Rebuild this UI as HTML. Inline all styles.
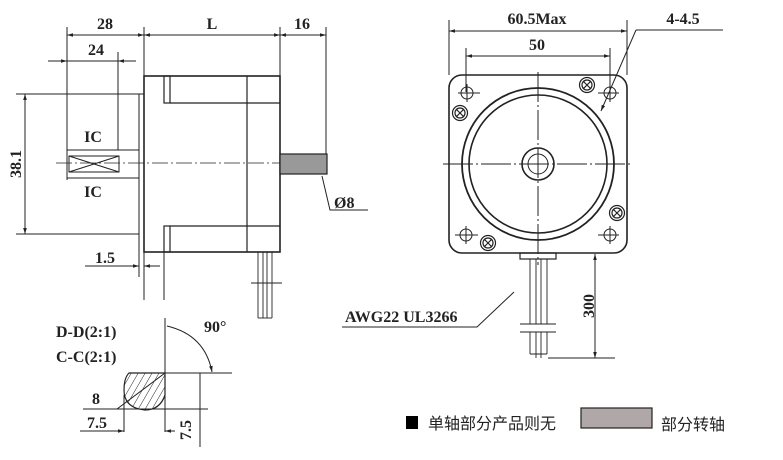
<!DOCTYPE html>
<html><head><meta charset="utf-8"><style>
html,body{margin:0;padding:0;background:#fff;}
svg{display:block;}
text{font-family:"Liberation Serif","Noto Serif CJK SC",serif;font-weight:bold;fill:#222;}
.c{font-family:"Liberation Sans","Noto Sans CJK SC",sans-serif;font-weight:normal;}
</style></head><body>
<svg width="783" height="460" viewBox="0 0 783 460" xmlns="http://www.w3.org/2000/svg">
<defs>
<marker id="a" viewBox="0 0 10 10" refX="10" refY="5" markerWidth="8" markerHeight="6" orient="auto-start-reverse"><path d="M0,2 L10,5 L0,8 z" fill="#222"/></marker>
<pattern id="h" width="6" height="6" patternUnits="userSpaceOnUse" patternTransform="rotate(30)"><line x1="0" y1="0" x2="0" y2="6" stroke="#222" stroke-width="1"/></pattern>
</defs>
<g stroke="#222" stroke-width="1" fill="none">
<line x1="67" y1="27" x2="67" y2="180"/>
<line x1="144" y1="27" x2="144" y2="300"/>
<line x1="280" y1="27" x2="280" y2="76"/>
<line x1="326" y1="27" x2="326" y2="154"/>
<line x1="67" y1="35" x2="144" y2="35" marker-start="url(#a)" marker-end="url(#a)"/>
<line x1="144" y1="35" x2="280" y2="35" marker-start="url(#a)" marker-end="url(#a)"/>
<line x1="280" y1="35" x2="326" y2="35" marker-start="url(#a)" marker-end="url(#a)"/>
<line x1="48" y1="61" x2="136" y2="61"/>
<line x1="48" y1="61" x2="67" y2="61" marker-end="url(#a)"/>
<line x1="136" y1="61" x2="118" y2="61" marker-end="url(#a)"/>
<line x1="118" y1="52" x2="118" y2="150"/>
<rect x="144" y="76" width="136" height="176" stroke-width="1.6"/>
<rect x="164" y="76" width="6" height="27" stroke-width="1.2"/>
<rect x="164" y="226" width="6" height="26" stroke-width="1.2"/>
<line x1="170" y1="103" x2="280" y2="103" stroke-width="1.2"/>
<line x1="170" y1="226" x2="280" y2="226" stroke-width="1.2"/>
<line x1="247" y1="76" x2="247" y2="252" stroke-width="1.2"/>
<line x1="164" y1="252" x2="164" y2="300"/>
<line x1="139" y1="94" x2="139" y2="277"/>
<line x1="139" y1="94" x2="144" y2="94"/>
<rect x="280" y="154" width="47" height="20" fill="#999" stroke-width="1.2"/>
<line x1="56" y1="163" x2="280" y2="163" stroke-dasharray="16 3 2 3" stroke-width="0.8"/>
<line x1="67" y1="150" x2="139" y2="150"/>
<line x1="67" y1="178" x2="139" y2="178"/>
<rect x="69" y="156" width="50" height="16"/>
<line x1="69" y1="156" x2="119" y2="172"/><line x1="69" y1="172" x2="119" y2="156"/>
<line x1="16" y1="94" x2="139" y2="94"/>
<line x1="16" y1="234" x2="139" y2="234"/>
<line x1="25" y1="94" x2="25" y2="234" marker-start="url(#a)" marker-end="url(#a)"/>
<line x1="85" y1="266" x2="139" y2="266" marker-end="url(#a)"/>
<line x1="160" y1="266" x2="144" y2="266" marker-end="url(#a)"/>
<polyline points="322,176 330,210 368,210"/>
<g stroke-width="0.9"><line x1="258" y1="252" x2="258" y2="318"/><line x1="263" y1="252" x2="263" y2="318"/><line x1="267" y1="252" x2="267" y2="318"/><line x1="272" y1="252" x2="272" y2="318"/><line x1="258" y1="318" x2="272" y2="318"/><line x1="251" y1="283" x2="282" y2="283"/></g>
<line x1="449" y1="20" x2="449" y2="75"/><line x1="627" y1="20" x2="627" y2="75"/>
<line x1="449" y1="31" x2="627" y2="31" marker-start="url(#a)" marker-end="url(#a)"/>
<line x1="466" y1="48" x2="466" y2="92"/><line x1="610" y1="48" x2="610" y2="92"/>
<line x1="466" y1="56" x2="610" y2="56" marker-start="url(#a)" marker-end="url(#a)"/>
<line x1="636" y1="30" x2="723" y2="30"/>
<line x1="636" y1="30" x2="601" y2="111" marker-end="url(#a)"/>
<rect x="449" y="75" width="178" height="178" rx="13" stroke-width="1.6"/>
<circle cx="538" cy="164" r="76" stroke-width="1.8"/>
<circle cx="538" cy="164" r="69" stroke-width="1.6"/>
<circle cx="538" cy="164" r="16" stroke-width="1.6"/>
<circle cx="538" cy="164" r="10"/>
<line x1="443" y1="164" x2="632" y2="164" stroke-dasharray="30 3 2 3"/>
<line x1="538" y1="72" x2="538" y2="265" stroke-dasharray="30 3 2 3"/>
<g>
<circle cx="467" cy="93" r="6"/><line x1="458" y1="93" x2="480" y2="93"/><line x1="467" y1="84" x2="467" y2="102"/>
<circle cx="610" cy="93" r="6"/><line x1="598" y1="93" x2="619" y2="93"/><line x1="610" y1="84" x2="610" y2="102"/>
<circle cx="466" cy="235" r="6"/><line x1="455" y1="235" x2="478" y2="235"/><line x1="466" y1="226" x2="466" y2="244"/>
<circle cx="610" cy="235" r="6"/><line x1="598" y1="235" x2="619" y2="235"/><line x1="610" y1="226" x2="610" y2="244"/>
</g>
<g stroke-width="1.2">
<circle cx="587" cy="85" r="7.5"/><circle cx="587" cy="85" r="5"/><path d="M583,81 l8,8 M591,81 l-8,8"/>
<circle cx="460" cy="113" r="7.5"/><circle cx="460" cy="113" r="5"/><path d="M456,109 l8,8 M464,109 l-8,8"/>
<circle cx="617" cy="213" r="7.5"/><circle cx="617" cy="213" r="5"/><path d="M613,209 l8,8 M621,209 l-8,8"/>
<circle cx="488" cy="243" r="7.5"/><circle cx="488" cy="243" r="5"/><path d="M484,239 l8,8 M492,239 l-8,8"/>
</g>
<rect x="520" y="253" width="36" height="6" stroke-width="1.2"/>
<g stroke-width="0.9"><line x1="530" y1="259" x2="530" y2="324"/><line x1="536" y1="259" x2="536" y2="324"/><line x1="541" y1="259" x2="541" y2="324"/><line x1="547" y1="259" x2="547" y2="324"/>
<line x1="520" y1="324" x2="556" y2="324"/><line x1="520" y1="332" x2="556" y2="332"/>
<line x1="530" y1="332" x2="530" y2="354"/><line x1="536" y1="332" x2="536" y2="358"/><line x1="541" y1="332" x2="541" y2="358"/><line x1="547" y1="332" x2="547" y2="354"/><line x1="530" y1="354" x2="547" y2="354"/></g>
<line x1="548" y1="358" x2="615" y2="358"/>
<line x1="595" y1="254" x2="595" y2="358" marker-start="url(#a)" marker-end="url(#a)"/>
<polyline points="342,327 477,327 514,292"/>
<line x1="165" y1="318" x2="165" y2="432"/>
<line x1="129" y1="373" x2="232" y2="373"/>
<path d="M167,326 Q205,335 212,372" marker-end="url(#a)"/>
<path d="M129,373 L165,373 L165,395 Q160,410 145,410 Q124,408 124,390 Q124,378 129,373 Z" fill="url(#h)" stroke-width="1.2"/>
<line x1="83" y1="409" x2="208" y2="409"/>
<line x1="200" y1="373" x2="200" y2="447"/>
<polyline points="83,409 117,409 165,373"/>
<line x1="124" y1="395" x2="124" y2="432"/>
<line x1="80" y1="431" x2="124" y2="431" marker-end="url(#a)"/>
<line x1="175" y1="431" x2="165" y2="431" marker-end="url(#a)"/>
<rect x="581" y="408" width="71" height="20" fill="#b0a8a8" stroke-width="1.2"/>
</g>
<rect x="406" y="416" width="12" height="13" fill="#000"/>
<g font-size="16">
<text x="105" y="29" text-anchor="middle">28</text>
<text x="212" y="29" text-anchor="middle">L</text>
<text x="302" y="29" text-anchor="middle">16</text>
<text x="96" y="55" text-anchor="middle">24</text>
<text x="93" y="142" text-anchor="middle" font-family="Liberation Sans">IC</text>
<text x="93" y="197" text-anchor="middle" font-family="Liberation Sans">IC</text>
<text transform="translate(21,164) rotate(-90)" text-anchor="middle">38.1</text>
<text x="105" y="263" text-anchor="middle">1.5</text>
<text x="334" y="208" font-weight="normal">Ø8</text>
<text x="537" y="24" text-anchor="middle">60.5Max</text>
<text x="537" y="50" text-anchor="middle">50</text>
<text x="683" y="24" text-anchor="middle">4-4.5</text>
<text x="345" y="322">AWG22 UL3266</text>
<text transform="translate(594,306) rotate(-90)" text-anchor="middle">300</text>
<text x="56" y="337">D-D(2:1)</text>
<text x="56" y="362">C-C(2:1)</text>
<text x="204" y="332" font-weight="normal">90°</text>
<text x="92" y="404">8</text>
<text x="97" y="428" text-anchor="middle">7.5</text>
<text transform="translate(191,430) rotate(-90)" text-anchor="middle">7.5</text>
</g>
<text class="c" x="428" y="429" font-size="16">单轴部分产品则无</text>
<text class="c" x="661" y="430" font-size="16">部分转轴</text>
</svg>
</body></html>
